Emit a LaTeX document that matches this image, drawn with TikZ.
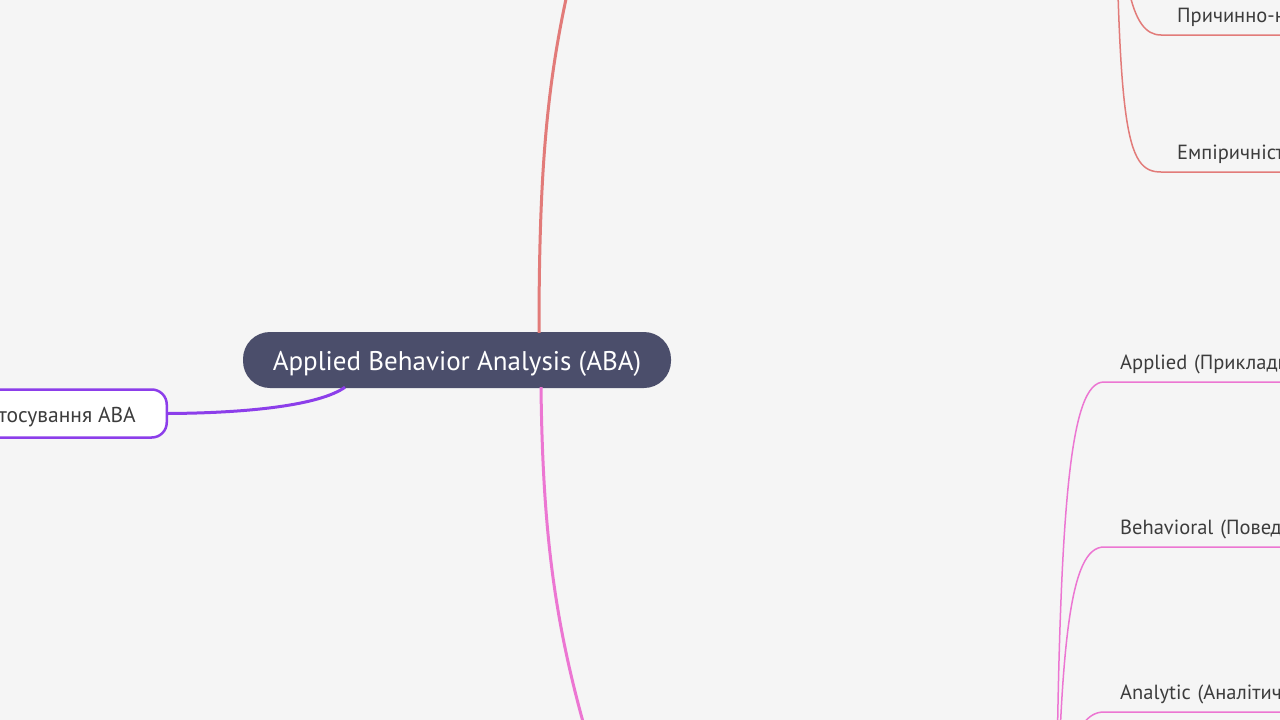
\documentclass[tikz,border=0pt]{standalone}
\usepackage{fontspec}
\setmainfont{PT Sans}
\usepackage{xcolor}
\usetikzlibrary{calc}
\definecolor{paper}{HTML}{F5F5F5}
\definecolor{root-fill}{HTML}{4B4E6B}
\definecolor{label-text}{HTML}{3C3C3C}
\definecolor{violet-line}{HTML}{8C3EEA}
\definecolor{red-line}{HTML}{E27B79}
\definecolor{pink-line}{HTML}{EC76D2}
\tikzset{
    root-box/.style = {fill=root-fill, text=white, rectangle, rounded corners=27pt, minimum width=428pt, minimum height=56pt, text height=22pt, text depth=1pt, font=\fontsize{27}{32}\selectfont},
    side-box/.style = {draw=violet-line, fill=white, line width=2.5pt, rectangle, rounded corners=15pt, minimum height=48pt, inner xsep=31pt, text height=17pt, text depth=0pt, text=label-text, font=\fontsize{21.5}{24}\selectfont},
    leaf-box/.style = {rectangle, anchor=south west, text width=270pt, align=left, inner xsep=16pt, inner ysep=9pt, text height=14pt, text depth=3pt, text=label-text, font=\fontsize{20.5}{24}\selectfont},
    main-link/.style = {line width=3pt},
    leaf-link/.style = {line width=1.5pt},
}
\begin{document}
\begin{tikzpicture}[x=1pt, y=-1pt]
\fill[paper] (0,0) rectangle (1280,720);
\useasboundingbox (0,0) rectangle (1280,720);
\node [root-box] (root) at (457,360) {Applied Behavior Analysis (ABA)};
\node [side-box, anchor=east] (uses) at (168,413.5) {Застосування ABA};
\coordinate (red-branch) at (580,-60);
\coordinate (pink-branch) at (600,780);
\coordinate (red-hub) at (1115,-180);
\coordinate (pink-hub) at (1056,877);
\node [leaf-box] (causal) at (1161,35) {Причинно-наслідковість};
\node [leaf-box] (empiric) at (1161,172) {Емпіричність};
\node [leaf-box] (applied) at (1104,382) {Applied (Прикладний)};
\node [leaf-box] (behav) at (1104,547) {Behavioral (Поведінковий)};
\node [leaf-box] (analytic) at (1104,712) {Analytic (Аналітичний)};

\draw [main-link, violet-line] (uses.east) .. controls (250,413) and (320,405) .. ($(root.south)+(-112,-1)$);
\draw [main-link, red-line] ($(root.north)+(82,1)$) .. controls (539,150) and (549,60) .. (red-branch);
\draw [main-link, pink-line] ($(root.south)+(84,-1)$) .. controls (543,560) and (560,650) .. (pink-branch);

\draw [leaf-link, red-line] (red-hub) .. controls (1120,-20) and (1130,35) .. (causal.south west) -- (causal.south east);
\draw [leaf-link, red-line] (red-hub) .. controls (1118,130) and (1125,172) .. (empiric.south west) -- (empiric.south east);
\draw [leaf-link, pink-line] (pink-hub) .. controls (1058,500) and (1070,382) .. (applied.south west) -- (applied.south east);
\draw [leaf-link, pink-line] (pink-hub) .. controls (1060,640) and (1070,547) .. (behav.south west) -- (behav.south east);
\draw [leaf-link, pink-line] (pink-hub) .. controls (1062,780) and (1070,712) .. (analytic.south west) -- (analytic.south east);
\end{tikzpicture}
\end{document}
